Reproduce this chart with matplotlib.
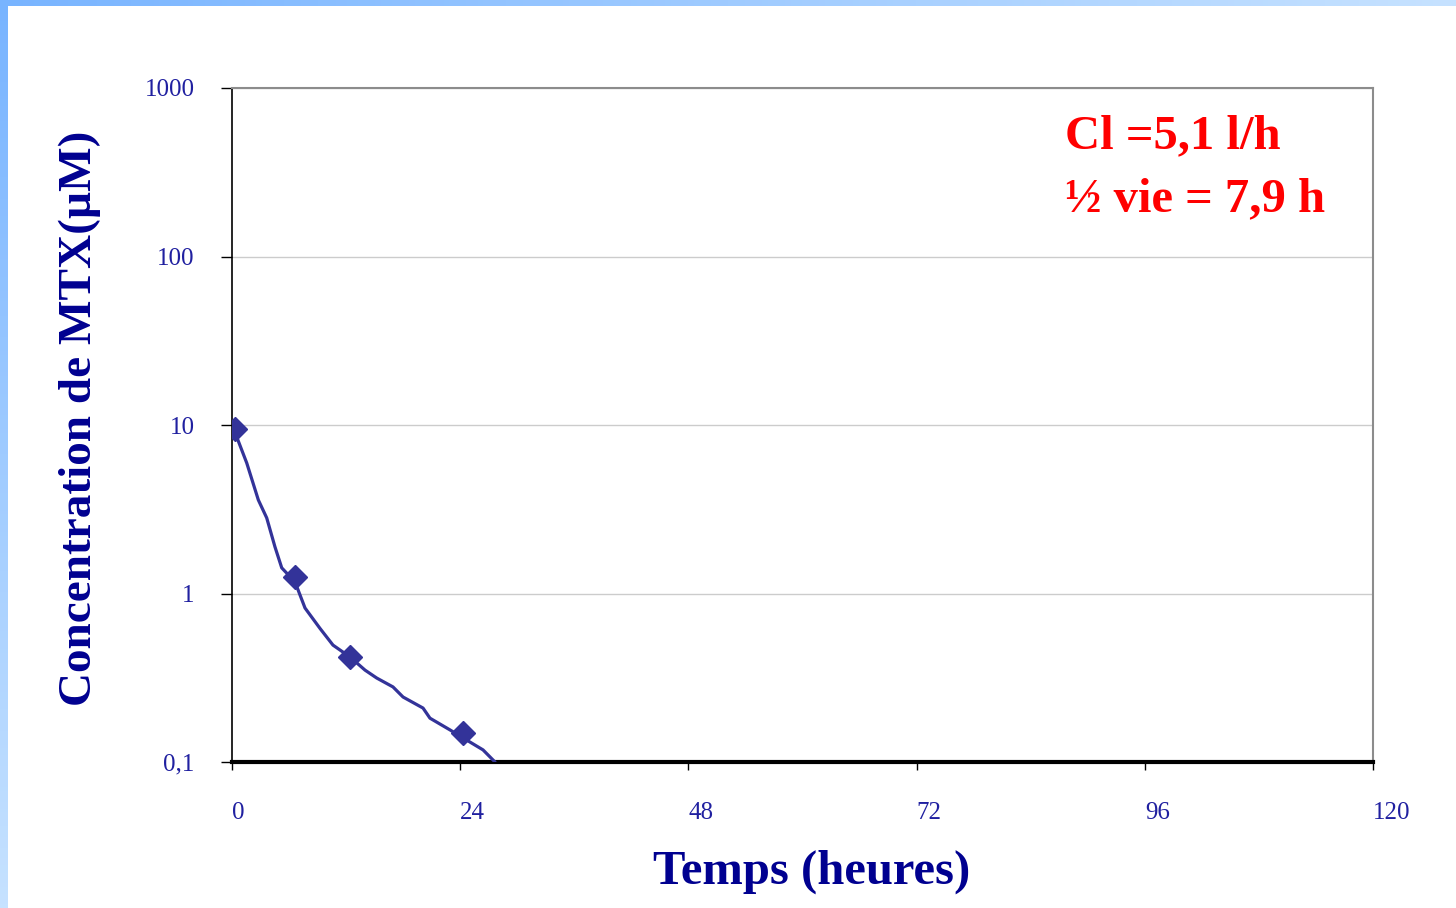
import numpy as np
import matplotlib.pyplot as plt
from matplotlib.ticker import FixedLocator, FixedFormatter
from matplotlib.colors import LinearSegmentedColormap

# mesures (points)
t_mes = [0.3, 6.6, 12.4, 24.3]
c_mes = [9.5, 1.25, 0.42, 0.148]

# courbe lissée
t_courbe = [0.3, 1.55, 2.77, 3.65, 4.52, 5.23, 6.63, 7.68, 9.26, 10.62, 12.41,
            13.99, 15.22, 16.93, 17.99, 20.09, 20.82, 22.93, 24.3, 26.4, 27.66]
c_courbe = [9.08, 5.95, 3.59, 2.81, 1.89, 1.42, 1.17, 0.82, 0.62, 0.494, 0.42,
            0.351, 0.315, 0.279, 0.243, 0.209, 0.182, 0.155, 0.139, 0.118, 0.1]

x_ticks = [0, 24, 48, 72, 96, 120]
y_ticks = [0.1, 1, 10, 100, 1000]
y_labels = ['0,1', '1', '10', '100', '1000']

plt.rcParams['font.family'] = ['Liberation Serif', 'DejaVu Serif']

fig = plt.figure(figsize=(14.56, 9.08), dpi=100)

# bandeau bleu (haut et gauche) en dégradé
bg = fig.add_axes([0, 0, 1, 1])
bg.set_xlim(0, 1456)
bg.set_ylim(908, 0)
bg.axis('off')
grad_h = np.linspace(0, 1, 256).reshape(1, -1)
grad_v = np.linspace(0, 1, 256).reshape(-1, 1)
cmap = LinearSegmentedColormap.from_list('bandeau', ['#78b4ff', '#c6e2ff'])
bg.imshow(grad_h, cmap=cmap, extent=[0, 1456, 6, 0], aspect='auto')
bg.imshow(grad_v, cmap=cmap, extent=[0, 8, 908, 0], aspect='auto')

ax = fig.add_axes([232/1456, 1-762/908, (1373-232)/1456, (762-88)/908])
ax.set_yscale('log')
ax.set_xlim(0, 120)
ax.set_ylim(0.1, 1000)

ax.plot(t_courbe, c_courbe, color='#333399', lw=2.3, solid_capstyle='round', zorder=3)
ax.plot(t_mes, c_mes, 'D', color='#333399', ms=12, zorder=4)

ax.yaxis.set_major_locator(FixedLocator(y_ticks))
ax.yaxis.set_major_formatter(FixedFormatter(y_labels))
ax.yaxis.set_minor_locator(FixedLocator([]))
ax.set_xticks(x_ticks)
ax.grid(axis='y', color='#cccccc', lw=1)
ax.set_axisbelow(True)

ax.tick_params(axis='y', direction='out', length=8, width=1, colors='black',
               labelcolor='#2020a0', labelsize=18, pad=19)
ax.tick_params(axis='x', direction='out', length=6, width=1, colors='black',
               labelcolor='#2020a0', labelsize=18, pad=23)
for lab in ax.get_xticklabels():
    lab.set_horizontalalignment('left')

ax.spines['bottom'].set_linewidth(3)
ax.spines['bottom'].set_color('black')
ax.spines['left'].set_linewidth(1.2)
ax.spines['left'].set_color('black')
for s in ['top', 'right']:
    ax.spines[s].set_color('#8c8c8c')
    ax.spines[s].set_linewidth(1.5)

fig.text(80/1456, 1-418/908, 'Concentration de MTX(µM)', rotation=90,
         ha='center', va='center', fontsize=34, fontweight='bold', color='#000090')
fig.text(812/1456, 1-872/908, 'Temps (heures)', ha='center', va='center',
         fontsize=35, fontweight='bold', color='#000090')

fig.text(1065/1456, 1-148/908, 'Cl =5,1 l/h', ha='left', va='baseline',
         fontsize=35, fontweight='bold', color='#ff0000')
fig.text(1065/1456, 1-211/908, '½ vie = 7,9 h', ha='left', va='baseline',
         fontsize=35, fontweight='bold', color='#ff0000')

fig.savefig('out.png', dpi=100)
